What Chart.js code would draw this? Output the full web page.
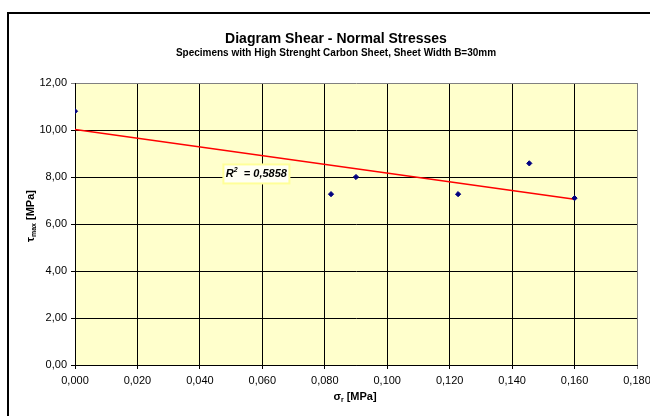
<!DOCTYPE html>
<html>
<head>
<meta charset="utf-8">
<script src="https://cdn.jsdelivr.net/npm/chart.js@4.4.0/dist/chart.umd.min.js"></script>
<style>
    body { margin: 0; background: #fff; }
    canvas { display: block; }
</style>
</head>
<body>
<canvas id="chartShear" width="650" height="416"></canvas>
<script>
const sigmaR = [0.000, 0.082, 0.090, 0.1227, 0.1455, 0.160];
const tauMax = [10.80, 7.27, 8.00, 7.27, 8.58, 7.10];
const trendX = [0.000, 0.160];
const trendY = [10.02, 7.05];
const xTicks = [0, 0.02, 0.04, 0.06, 0.08, 0.10, 0.12, 0.14, 0.16, 0.18];
const yTicks = [0, 2, 4, 6, 8, 10, 12];
const r2Value = '0,5858';

const FONT = "'Liberation Sans', Arial, sans-serif";
const canvas = document.getElementById('chartShear');
const ctx = canvas.getContext('2d');

// texto con subindice o superindice
const drawParts = (c, parts, x, y) => {
    let total = 0;
    parts.forEach(p => { c.font = p.font; total += c.measureText(p.text).width; });
    let px = x - total / 2;
    parts.forEach(p => {
        c.font = p.font;
        c.fillText(p.text, px, y + (p.dy || 0));
        px += c.measureText(p.text).width;
    });
};

const marcoPlugin = {
    id: 'marco',
    beforeDraw(chart) {
        const c = chart.ctx;
        const a = chart.chartArea;
        c.save();
        c.fillStyle = '#ffffff';
        c.fillRect(0, 0, chart.width, chart.height);
        c.fillStyle = '#ffffcc';
        c.fillRect(a.left, a.top, a.right - a.left, a.bottom - a.top);
        c.restore();
    },
    afterDraw(chart) {
        const c = chart.ctx;
        c.save();
        c.strokeStyle = '#000';
        c.lineWidth = 2;
        c.strokeRect(8, 13, 700, 500);

        c.fillStyle = '#000';
        c.textBaseline = 'middle';
        // titulo eje x
        drawParts(c, [
            { text: 'σ', font: 'bold 11px ' + FONT },
            { text: 'r', font: 'bold 7px ' + FONT, dy: 3 },
            { text: ' [MPa]', font: 'bold 11px ' + FONT }
        ], 355, 397);
        // titulo eje y
        c.translate(31, 216);
        c.rotate(-Math.PI / 2);
        drawParts(c, [
            { text: 'τ', font: 'bold 11px ' + FONT },
            { text: 'max', font: 'bold 7px ' + FONT, dy: 3 },
            { text: ' [MPa]', font: 'bold 11px ' + FONT }
        ], 0, 0);
        c.restore();
    },
    afterDatasetsDraw(chart) {
        const c = chart.ctx;
        const cx = chart.scales.x.getPixelForValue(0.0581);
        const cy = chart.scales.y.getPixelForValue(8.13);
        c.save();
        c.fillStyle = '#fffff4';
        c.strokeStyle = '#ffff99';
        c.lineWidth = 2;
        c.fillRect(cx - 33, cy - 9.5, 66, 19);
        c.strokeRect(cx - 33, cy - 9.5, 66, 19);
        c.fillStyle = '#000';
        c.textBaseline = 'middle';
        drawParts(c, [
            { text: 'R', font: 'italic bold 11px ' + FONT },
            { text: '2', font: 'italic bold 7px ' + FONT, dy: -4 },
            { text: '  = ' + r2Value, font: 'italic bold 11px ' + FONT }
        ], cx, cy);
        c.restore();
    }
};

const chartShear = new Chart(ctx, {
    type: 'scatter',
    data: {
        datasets: [{
            label: 'tau',
            data: sigmaR.map((x, i) => ({ x: x, y: tauMax[i] })),
            pointStyle: 'rectRot',
            pointRadius: 2.6,
            backgroundColor: '#000080',
            borderColor: '#000080',
            borderWidth: 1,
            order: 1
        }, {
            label: 'trend',
            type: 'line',
            data: trendX.map((x, i) => ({ x: x, y: trendY[i] })),
            borderColor: '#ff0000',
            borderWidth: 1.5,
            pointRadius: 0,
            fill: false,
            order: 2
        }]
    },
    options: {
        responsive: false,
        animation: false,
        devicePixelRatio: 1,
        layout: { padding: { left: 35, right: 13, top: 0, bottom: 0 } },
        plugins: {
            legend: { display: false },
            tooltip: { enabled: false },
            title: {
                display: true,
                text: 'Diagram Shear - Normal Stresses',
                color: '#000',
                font: { family: FONT, size: 14, weight: 'bold' },
                padding: { top: 30.5, bottom: 0 }
            },
            subtitle: {
                display: true,
                text: 'Specimens with High Strenght Carbon Sheet, Sheet Width B=30mm',
                color: '#000',
                font: { family: FONT, size: 10, weight: 'bold' },
                padding: { top: 0, bottom: 23.7 }
            }
        },
        scales: {
            x: {
                type: 'linear',
                min: 0,
                max: 0.18,
                afterBuildTicks: s => { s.ticks = xTicks.map(v => ({ value: v })); },
                afterFit: s => { s.height = 51; s.paddingLeft = 0; s.paddingRight = 0; },
                grid: {
                    color: c => (c.tick && c.tick.value === 0.18) ? '#808080' : '#000',
                    tickLength: 4
                },
                border: { color: '#000' },
                ticks: {
                    color: '#000',
                    font: { family: FONT, size: 11 },
                    padding: 5,
                    maxRotation: 0,
                    autoSkip: false,
                    callback: v => v.toFixed(3).replace('.', ',')
                }
            },
            y: {
                type: 'linear',
                min: 0,
                max: 12,
                afterBuildTicks: s => { s.ticks = yTicks.map(v => ({ value: v })); },
                afterFit: s => { s.width = 40; },
                grid: {
                    color: c => (c.tick && c.tick.value === 12) ? '#808080' : '#000',
                    tickLength: 4
                },
                border: { color: '#000' },
                ticks: {
                    color: '#000',
                    font: { family: FONT, size: 11 },
                    padding: 4,
                    autoSkip: false,
                    callback: v => v.toFixed(2).replace('.', ',')
                }
            }
        }
    },
    plugins: [marcoPlugin]
});
</script>
</body>
</html>
